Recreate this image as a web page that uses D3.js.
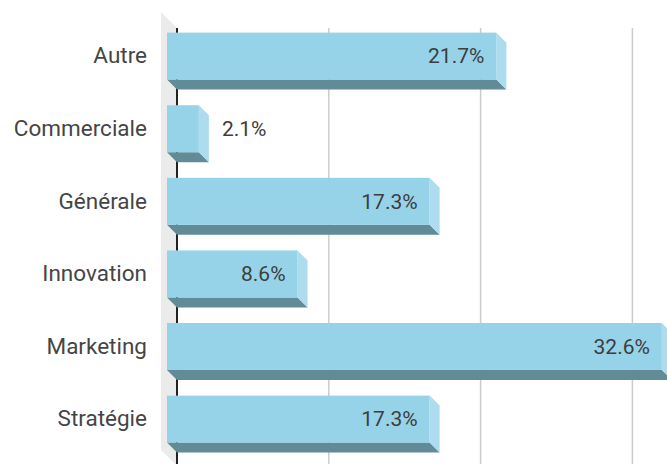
<!DOCTYPE html>
<html>
<head>
<meta charset="utf-8">
<script src="https://cdn.jsdelivr.net/npm/d3@7/dist/d3.min.js"></script>
<style>
  html, body { margin: 0; padding: 0; background: #fff; }
  svg { display: block; font-family: Roboto, "Noto Sans", sans-serif; }
</style>
</head>
<body>
<svg id="chart" width="667" height="464"></svg>
<script>
// Share of responses per function (percent)
const categories = ["Autre", "Commerciale", "Générale", "Innovation", "Marketing", "Stratégie"];
const values = [21.7, 2.1, 17.3, 8.6, 32.6, 17.3];
const gridTicks = [10, 20, 30];

const W = 667, H = 464;
const depth = 10;          // extrusion of each bar (right / down)
const wallDepth = 15;      // side wall thickness
const frontX0 = 167;       // zero on the front plane

const svg = d3.select("#chart");

const x = d3.scaleLinear().domain([0, 30]).range([frontX0, frontX0 + 30 * 15.18]);
const y = d3.scaleBand().domain(categories).range([7, 468.2]).padding(0.353);

// left wall
const wallTop = 12, wallBottom = 450, wallX = 161;
svg.append("polygon")
  .attr("points", [
    [wallX, wallTop], [wallX + wallDepth, wallTop + wallDepth],
    [wallX + wallDepth, wallBottom + wallDepth], [wallX, wallBottom]
  ].map(p => p.join(",")).join(" "))
  .attr("fill", "#ebebeb");

// back-plane gridlines
const gridTop = 28;
svg.append("g").selectAll("line")
  .data(gridTicks)
  .join("line")
  .attr("x1", d => x(d) + depth).attr("x2", d => x(d) + depth)
  .attr("y1", gridTop).attr("y2", H)
  .attr("stroke", "#cccccc").attr("stroke-width", 1.5);

// value axis line at zero on the back plane
svg.append("line")
  .attr("x1", x(0) + depth).attr("x2", x(0) + depth)
  .attr("y1", gridTop).attr("y2", H)
  .attr("stroke", "#222").attr("stroke-width", 2);

// bars
const bars = svg.append("g").selectAll("g")
  .data(categories.map((c, i) => ({ c, v: values[i] })))
  .join("g");

const pts = a => a.map(p => p.join(",")).join(" ");

bars.append("polygon")   // bottom face
  .attr("points", d => {
    const x0 = x(0), x1 = x(d.v), y1 = y(d.c) + y.bandwidth();
    return pts([[x0, y1], [x1, y1], [x1 + depth, y1 + depth], [x0 + depth, y1 + depth]]);
  })
  .attr("fill", "#618b97");

bars.append("polygon")   // side face
  .attr("points", d => {
    const x1 = x(d.v), y0 = y(d.c), y1 = y0 + y.bandwidth();
    return pts([[x1, y0], [x1 + depth, y0 + depth], [x1 + depth, y1 + depth], [x1, y1]]);
  })
  .attr("fill", "#acdcee");

bars.append("rect")      // front face
  .attr("x", x(0))
  .attr("y", d => y(d.c))
  .attr("width", d => x(d.v) - x(0))
  .attr("height", y.bandwidth())
  .attr("fill", "#97d3e8");

// value labels: inside the bar when it fits, otherwise after it
bars.append("text")
  .attr("x", d => (x(d.v) - x(0) > 60) ? x(d.v) - 12 : x(d.v) + depth + 13)
  .attr("y", d => y(d.c) + y.bandwidth() / 2)
  .attr("dy", "0.35em")
  .attr("text-anchor", d => (x(d.v) - x(0) > 60) ? "end" : "start")
  .attr("font-size", 21)
  .attr("fill", "#3d3d3d")
  .text(d => d.v.toFixed(1) + "%");

// category axis
const yAxis = svg.append("g")
  .attr("transform", `translate(${x(0)},0)`)
  .call(d3.axisLeft(y).tickSize(0).tickPadding(20));
yAxis.select(".domain").remove();
yAxis.selectAll("text")
  .attr("font-size", 22.5)
  .attr("font-family", "Roboto, sans-serif")
  .attr("fill", "#454545");
</script>
</body>
</html>
